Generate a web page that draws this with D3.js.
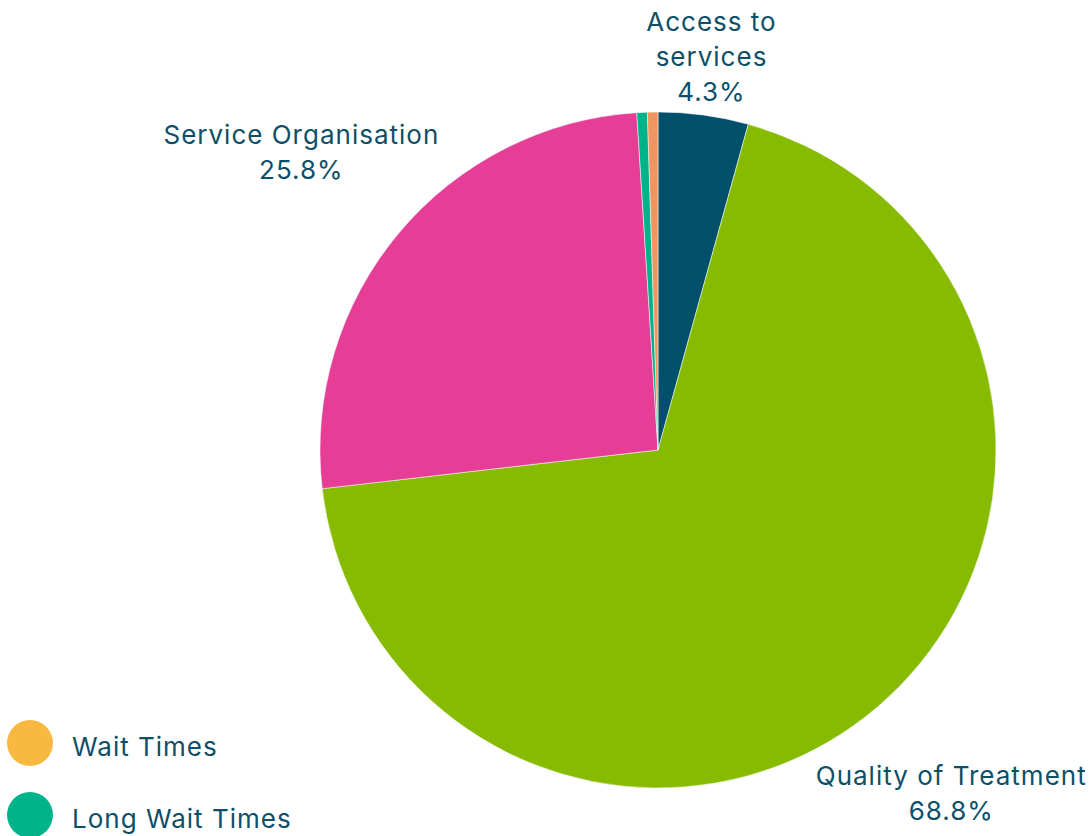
<!DOCTYPE html>
<html>
<head>
  <script src="https://cdn.jsdelivr.net/npm/d3@7"></script>
  <style>
    body { margin: 0; background: #fff; }
    text { font-family: "Inter", "Open Sans", sans-serif; fill: #0d4f68; letter-spacing: 1px; }
  </style>
</head>
<body>
  <script>

  var width = 1091
  var height = 836

  // slices, clockwise from 12 o'clock
  var categories = ["Access to services", "Quality of Treatment", "Service Organisation", "Long Wait Times", "Wait Times"];
  var values = [4.3, 68.8, 25.8, 0.5, 0.5];
  var sliceColors = ["#00506b", "#86bb00", "#e63e96", "#00b38b", "#ef9562"];
  // wrapped label text; null = no label
  var labelLines = [["Access to", "services"], ["Quality of Treatment"], ["Service Organisation"], null, null];

  var legendNames = ["Wait Times", "Long Wait Times"];
  var legendColors = ["#f9b940", "#00b38b"];

  var cx = 658, cy = 450, radius = 338;
  var lineH = 35;

  var svg = d3.select("body").append("svg")
    .attr("width", width)
    .attr("height", height);

  var data = categories.map(function(c, i) {
    return { name: c, value: values[i], color: sliceColors[i], lines: labelLines[i] };
  });

  var pie = d3.pie().sort(null).value(function(d) { return d.value; });
  var arc = d3.arc().innerRadius(0).outerRadius(radius);

  var g = svg.append("g").attr("transform", "translate(" + cx + "," + cy + ")");

  var arcs = pie(data);

  g.selectAll("path")
    .data(arcs).enter()
    .append("path")
    .attr("d", arc)
    .attr("fill", function(d) { return d.data.color; })
    .attr("stroke", "#fff")
    .attr("stroke-width", 0.5);

  // labels outside the pie, pushed out by the text box extent
  var labels = g.selectAll(".lbl")
    .data(arcs.filter(function(d) { return d.data.lines; })).enter()
    .append("text")
    .attr("class", "lbl")
    .attr("text-anchor", "middle")
    .attr("font-size", 26);

  labels.each(function(d) {
    var t = d3.select(this);
    var lines = d.data.lines.concat([d3.format(".1f")(d.data.value) + "%"]);
    lines.forEach(function(l, i) {
      t.append("tspan").attr("x", 0).attr("y", i * lineH).text(l);
    });
    var bb = this.getBBox();
    var a = (d.startAngle + d.endAngle) / 2;
    var dx = Math.sin(a), dy = -Math.cos(a);
    var ext = Math.abs(dx) * bb.width / 2 + Math.abs(dy) * bb.height / 2;
    var r = radius + ext;
    var px = dx * r - (bb.x + bb.width / 2);
    var py = dy * r - (bb.y + bb.height / 2);
    t.attr("transform", "translate(" + px + "," + py + ")");
  });

  // legend
  var legend = svg.append("g").attr("transform", "translate(30,743)");
  var item = legend.selectAll(".item")
    .data(legendNames).enter()
    .append("g")
    .attr("transform", function(d, i) { return "translate(0," + (i * 72) + ")"; });

  item.append("circle")
    .attr("r", 23)
    .attr("fill", function(d, i) { return legendColors[i]; });

  item.append("text")
    .attr("x", 42)
    .attr("y", 13)
    .attr("font-size", 26)
    .text(function(d) { return d; });

  </script>
</body>
</html>
